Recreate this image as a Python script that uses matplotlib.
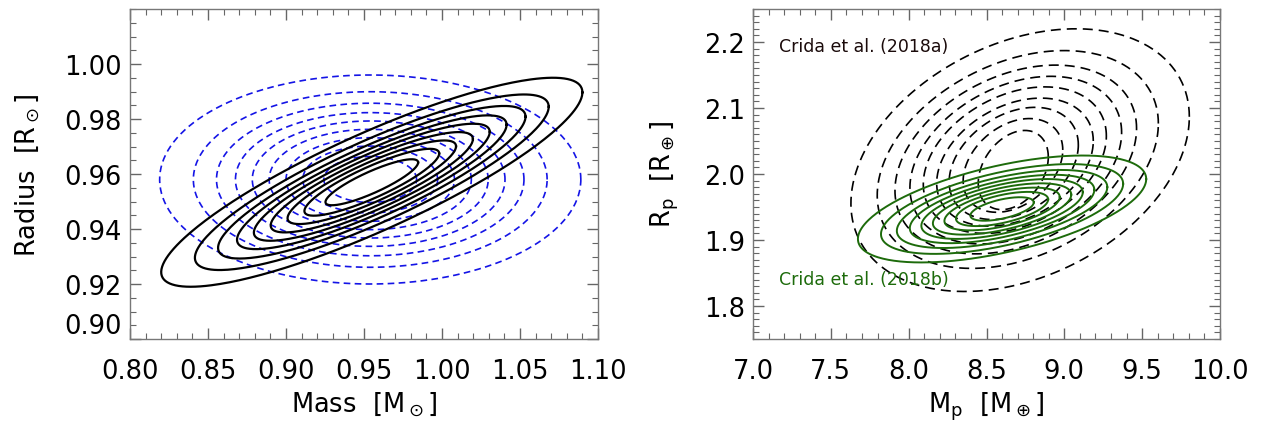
import numpy as np
import matplotlib.pyplot as plt
from matplotlib.ticker import MultipleLocator

# relative size of the 9 nested contours (outer -> inner)
levels = [1.0, 0.84, 0.73, 0.64, 0.56, 0.48, 0.40, 0.32, 0.22]

# left panel: stellar mass / radius, outer contour (centre, half x/y extent, correlation)
star_blue_center = [0.954, 0.958]
star_blue_half = [0.135, 0.038]
star_blue_rho = 0.0

star_black_center = [0.955, 0.957]
star_black_half = [0.135, 0.038]
star_black_rho = 0.86

# right panel: Crida et al. (2018a), each dashed contour read separately
crida_a_cx = [8.716, 8.701, 8.688, 8.688, 8.682, 8.683, 8.675, 8.670, 8.672]
crida_a_cy = [2.021, 2.022, 2.022, 2.021, 2.021, 2.018, 2.016, 2.013, 2.006]
crida_a_hw = [1.087, 0.903, 0.776, 0.680, 0.588, 0.503, 0.415, 0.320, 0.225]
crida_a_hh = [0.199, 0.165, 0.143, 0.127, 0.111, 0.097, 0.085, 0.071, 0.060]
crida_a_rho = 0.33

# Crida et al. (2018b), outer contour
crida_b_center = [8.60, 1.947]
crida_b_half = [0.926, 0.081]
crida_b_rho = 0.56


def draw_ellipse(ax, cx, cy, hw, hh, rho, **kw):
    t = np.linspace(0, 2 * np.pi, 300)
    x = cx + hw * np.cos(t)
    y = cy + hh * (rho * np.cos(t) + np.sqrt(1 - rho ** 2) * np.sin(t))
    ax.plot(x, y, **kw)


def draw_family(ax, center, half, rho, **kw):
    for s in levels:
        draw_ellipse(ax, center[0], center[1], s * half[0], s * half[1], rho, **kw)


def style_axes(ax, major_x, minor_x, major_y, minor_y):
    ax.xaxis.set_major_locator(MultipleLocator(major_x))
    ax.xaxis.set_minor_locator(MultipleLocator(minor_x))
    ax.yaxis.set_major_locator(MultipleLocator(major_y))
    ax.yaxis.set_minor_locator(MultipleLocator(minor_y))
    ax.tick_params(which='both', direction='in', top=True, right=True, color='#666666')
    ax.tick_params(which='major', length=8, width=1.0, labelsize=18.5)
    ax.tick_params(which='minor', length=4, width=0.8)
    ax.tick_params(axis='x', pad=14)
    ax.tick_params(axis='y', pad=6)
    for sp in ax.spines.values():
        sp.set_color('#777777')
        sp.set_linewidth(1.0)


fig = plt.figure(figsize=(12.77, 4.27), dpi=100)
ax1 = fig.add_axes([130 / 1277, 1 - 340 / 427, 468 / 1277, 330 / 427])
ax2 = fig.add_axes([753 / 1277, 1 - 340 / 427, 467 / 1277, 330 / 427])

# left panel
draw_family(ax1, star_blue_center, star_blue_half, star_blue_rho,
            color='#1414e6', lw=1.2, dashes=(4, 2.6))
draw_family(ax1, star_black_center, star_black_half, star_black_rho,
            color='black', lw=1.6)
ax1.set_xlim(0.80, 1.10)
ax1.set_ylim(0.90, 1.02)
style_axes(ax1, 0.05, 0.01, 0.02, 0.005)
ax1.set_yticks([0.90, 0.92, 0.94, 0.96, 0.98, 1.00])
ax1.xaxis.set_major_formatter(plt.FormatStrFormatter('%.2f'))
ax1.yaxis.set_major_formatter(plt.FormatStrFormatter('%.2f'))
# bottom label sits just above the axis edge, as in the original
ax1.yaxis.get_major_ticks()[0].label1.set_va('bottom')
ax1.set_xlabel(r'Mass  [M$_\odot$]', fontsize=18.5, labelpad=4)
ax1.set_ylabel(r'Radius  [R$_\odot$]', fontsize=18.5, labelpad=16)

# right panel
for i in range(len(crida_a_cx)):
    draw_ellipse(ax2, crida_a_cx[i], crida_a_cy[i], crida_a_hw[i], crida_a_hh[i],
                 crida_a_rho, color='black', lw=1.2, dashes=(6, 3.6))
draw_family(ax2, crida_b_center, crida_b_half, crida_b_rho,
            color='#1d6b0b', lw=1.4)
ax2.set_xlim(7.0, 10.0)
ax2.set_ylim(1.75, 2.25)
style_axes(ax2, 0.5, 0.1, 0.1, 0.01)
ax2.xaxis.set_major_formatter(plt.FormatStrFormatter('%.1f'))
ax2.yaxis.set_major_formatter(plt.FormatStrFormatter('%.1f'))
ax2.text(7.17, 2.194, 'Crida et al. (2018a)', color='#1a0a0a', fontsize=12.5, va='center')
ax2.text(7.17, 1.841, 'Crida et al. (2018b)', color='#1d6b0b', fontsize=12.5, va='center')
ax2.set_xlabel(r'M$_\mathrm{p}$  [M$_\oplus$]', fontsize=18.5, labelpad=4)
ax2.set_ylabel(r'R$_\mathrm{p}$  [R$_\oplus$]', fontsize=18.5, labelpad=16)

fig.savefig('out.png', dpi=100)
